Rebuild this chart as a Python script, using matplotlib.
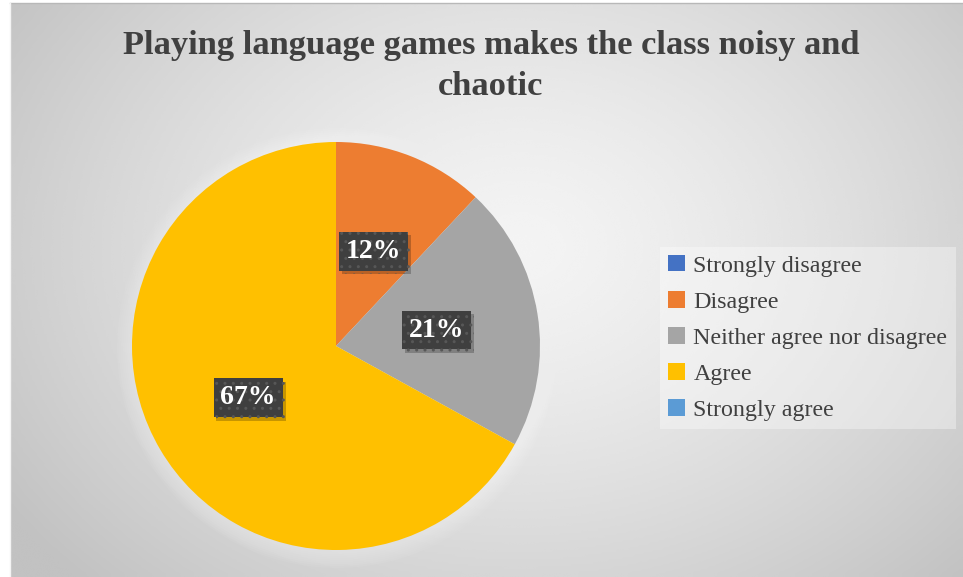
import numpy as np
import matplotlib
matplotlib.use("Agg")
import matplotlib.pyplot as plt
import matplotlib.patheffects as pe
from matplotlib.patches import Patch, Circle

plt.rcParams["font.family"] = ["Liberation Serif", "DejaVu Serif"]

TITLE = "Playing language games makes the class noisy and\nchaotic"
CATEGORIES = ["Strongly disagree", "Disagree", "Neither agree nor disagree",
              "Agree", "Strongly agree"]
SHARES = [0, 12, 21, 67, 0]
COLORS = ["#4472C4", "#ED7D31", "#A5A5A5", "#FFC000", "#5B9BD5"]

W, H = 963, 577
fig = plt.figure(figsize=(W / 100, H / 100), dpi=100)
fig.patch.set_facecolor("white")
ax = fig.add_axes([0, 0, 1, 1])

# radial grey gradient behind the chart area
x0, x1, y0, y1 = 10, W, 0, H - 3
gx, gy = np.meshgrid(np.linspace(x0, x1, 400), np.linspace(y0, y1, 240))
d = np.hypot((gx - 520) / 560, (gy - 330) / 430)
shade = np.clip(0.955 - 0.17 * d ** 1.4, 0.76, 0.96)
ax.imshow(shade, extent=(x0, x1, y0, y1), origin="lower", cmap="gray",
          vmin=0, vmax=1, aspect="auto", zorder=0, interpolation="bicubic")
ax.plot([x0, x1], [y1, y1], color="#b8b8b8", lw=1, zorder=1)
ax.plot([x0, x0], [y0, y1], color="#f4f4f4", lw=1, zorder=1)

cx, cy, r = 336, H - 346, 204

# soft glow under the pie
for k in range(8):
    ax.add_patch(Circle((cx + 1, cy - 2), r + 2 + 2 * k, color="white",
                        alpha=0.05, lw=0, zorder=1))

wedges, _, autotexts = ax.pie(
    SHARES, colors=COLORS, startangle=90, counterclock=False,
    center=(cx, cy), radius=r, frame=True,
    autopct=lambda p: f"{p:.0f}%" if p > 0 else "", pctdistance=0.5,
    wedgeprops=dict(linewidth=0), textprops=dict(zorder=5),
)
for w in wedges:
    w.set_zorder(2)

for t in autotexts:
    t.set_fontsize(20)
    t.set_fontweight("bold")
    t.set_color("white")
    t.set_bbox(dict(boxstyle="square,pad=0.25", facecolor="#3f3f3f",
                    edgecolor="#575757", linewidth=0.0, hatch="..",
                    path_effects=[pe.SimplePatchShadow(offset=(2, -2.5), alpha=0.22,
                                                       shadow_rgbFace="#000000"),
                                  pe.Normal()]))

ax.text(491, H - 66, TITLE, ha="center", va="center", fontsize=24.8,
        fontweight="bold", color="#404040", linespacing=1.42, zorder=5)

handles = [Patch(facecolor=c, edgecolor="none") for c in COLORS]
leg = ax.legend(handles, CATEGORIES, loc="center left",
                bbox_to_anchor=(660 / W, 1 - 338 / H), fontsize=17.3,
                frameon=True, facecolor="white", framealpha=0.35,
                edgecolor="none", fancybox=False, handlelength=0.68,
                handleheight=0.68, handletextpad=0.36, labelspacing=0.6,
                borderpad=0.35, borderaxespad=0)
for t in leg.get_texts():
    t.set_color("#404040")

ax.set_xlim(0, W)
ax.set_ylim(0, H)
ax.axis("off")

fig.savefig("out.png", dpi=100, facecolor="white")
